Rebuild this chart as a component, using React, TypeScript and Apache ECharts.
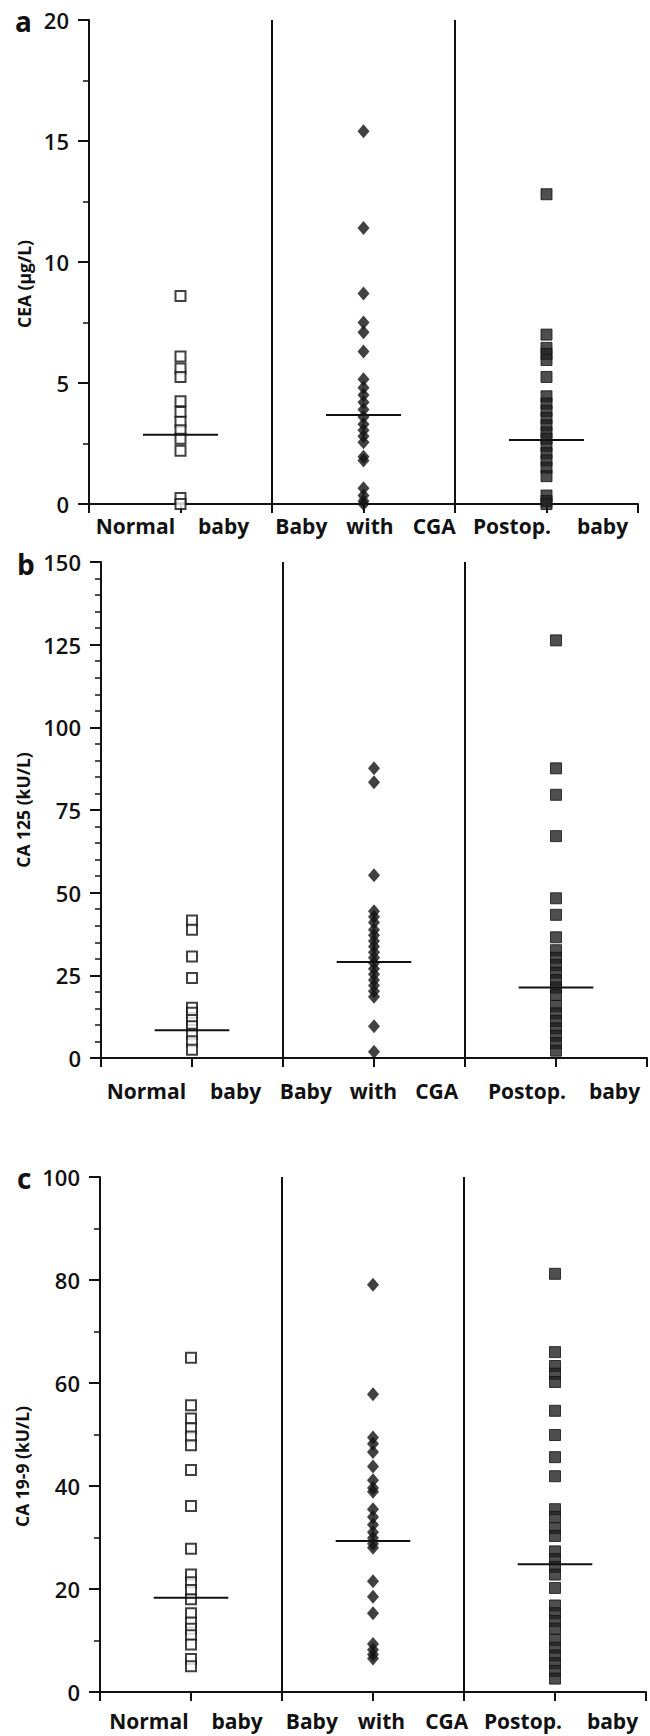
import React, { useEffect, useRef } from "react";
import * as echarts from "echarts";

const CATEGORIES = ["Normal baby", "Baby with CGA", "Postop. baby"];
const CAT_POS = [0.5, 1.5, 2.5];

// Panel a: CEA (µg/L)
const CEA_NORMAL = [8.6, 6.1, 5.6, 5.25, 4.25, 3.8, 3.4, 3.05, 2.7, 2.2, 0.25, 0];
const CEA_CGA = [15.4, 11.4, 8.7, 7.5, 7.1, 6.3, 5.15, 4.8, 4.5, 4.2, 3.9, 3.6, 3.3, 3.05, 2.8, 2.55, 1.95, 1.8, 0.65, 0.35, 0.12, 0];
const CEA_POSTOP = [12.8, 7.0, 6.45, 6.2, 5.95, 5.25, 4.45, 4.15, 3.85, 3.55, 3.25, 2.95, 2.7, 2.4, 2.1, 1.8, 1.5, 1.15, 0.35, 0.12, 0];
const CEA_MEDIAN = [2.86, 3.68, 2.64];

// Panel b: CA 125 (kU/L)
const CA125_NORMAL = [41.6, 38.8, 30.7, 24.2, 15.2, 13.7, 11.5, 9.6, 7.3, 5.1, 2.5];
const CA125_CGA = [87.6, 83.4, 55.3, 44.4, 42.7, 41.0, 38.8, 37.1, 35.4, 33.7, 32.0, 30.3, 28.7, 27.0, 25.3, 23.6, 21.9, 20.2, 18.5, 9.6, 1.9];
const CA125_POSTOP = [126.3, 87.6, 79.6, 67.1, 48.3, 43.3, 36.5, 32.6, 30.3, 28.1, 25.8, 23.6, 21.3, 19.1, 15.7, 13.5, 11.2, 9.0, 6.7, 4.5, 2.2];
const CA125_MEDIAN = [8.4, 29.0, 21.3];

// Panel c: CA 19-9 (kU/L)
const CA199_NORMAL = [64.9, 55.7, 53.1, 51.2, 49.6, 47.9, 43.1, 36.1, 27.8, 22.8, 21.3, 19.8, 18.0, 15.3, 13.5, 12.3, 11.0, 9.2, 6.4, 5.0];
const CA199_CGA = [79.1, 57.8, 49.4, 48.2, 46.6, 43.8, 41.1, 39.6, 38.9, 35.5, 34.0, 32.5, 31.0, 29.9, 28.8, 28.0, 21.5, 18.5, 15.3, 9.3, 8.2, 7.3, 6.5];
const CA199_POSTOP = [81.2, 66.0, 63.3, 61.8, 60.2, 54.6, 49.9, 45.6, 41.9, 35.5, 34.0, 31.8, 30.3, 27.3, 25.8, 24.3, 22.8, 20.2, 16.8, 15.3, 13.8, 12.3, 10.1, 8.6, 7.1, 5.6, 4.1, 2.6];
const CA199_MEDIAN = [18.3, 29.3, 24.8];

const PANEL_LETTERS = ["a", "b", "c"];
const Y_TITLES = ["CEA (\u00b5g/L)", "CA 125 (kU/L)", "CA 19-9 (kU/L)"];
const Y_MAX = [20, 150, 100];
const Y_STEP = [5, 25, 20];
const Y_MINOR = [2, 5, 2];

const PANELS = [
  { normal: CEA_NORMAL, cga: CEA_CGA, postop: CEA_POSTOP, median: CEA_MEDIAN },
  { normal: CA125_NORMAL, cga: CA125_CGA, postop: CA125_POSTOP, median: CA125_MEDIAN },
  { normal: CA199_NORMAL, cga: CA199_CGA, postop: CA199_POSTOP, median: CA199_MEDIAN },
];

// layout
const GRIDS = [
  { left: 89, top: 20, width: 549, height: 484 },
  { left: 101, top: 562, width: 549, height: 496 },
  { left: 100, top: 1177, width: 546, height: 515 },
];
const LETTER_POS = [
  { left: 10, top: 2 },
  { left: 12, top: 545 },
  { left: 12, top: 1159 },
];
// gaps between words of each category label, and horizontal offset of the label
const WORD_GAPS = [
  [[23], [19, 19], [26]],
  [[24], [18, 18], [23]],
  [[23], [20, 20], [25]],
];
const LABEL_OFFSET = [
  [-8, 2, 4],
  [-8, -5, 8],
  [-5, 4, 6],
];
const TITLE_SHIFT = [44, 0, 64];
const LABEL_MARGIN = [11, 22, 18];
const FONT = "'Open Sans', 'DejaVu Sans', sans-serif";
const LABEL_SIZE = 21;

function buildOption() {
  const grid: any[] = [];
  const xAxis: any[] = [];
  const yAxis: any[] = [];
  const series: any[] = [];
  const title: any[] = [];

  PANELS.forEach((p, i) => {
    grid.push({ ...GRIDS[i], containLabel: false });
    title.push({
      text: PANEL_LETTERS[i],
      left: LETTER_POS[i].left,
      top: LETTER_POS[i].top,
      textStyle: { fontFamily: FONT, fontSize: 28, fontWeight: "bold", color: "#111" },
    });

    const rich: any = {};
    CATEGORIES.forEach((cat, c) => {
      const words = cat.split(" ");
      const off = LABEL_OFFSET[i][c];
      words.forEach((_, k) => {
        let right = k < words.length - 1 ? WORD_GAPS[i][c][k] : 0;
        let left = 0;
        if (k === 0 && off > 0) left = off * 2;
        if (k === words.length - 1 && off < 0) right = -off * 2;
        rich[`t${c}_${k}`] = {
          fontFamily: FONT,
          fontSize: LABEL_SIZE,
          fontWeight: "bold",
          color: "#111",
          padding: [0, right, 0, left],
        };
      });
    });

    xAxis.push({
      gridIndex: i,
      type: "value",
      min: 0,
      max: 3,
      interval: 0.5,
      axisLine: { show: true, onZero: false, lineStyle: { color: "#111", width: 2 } },
      axisTick: { show: true, length: 9, lineStyle: { color: "#111", width: 2 } },
      splitLine: { show: false },
      axisLabel: {
        margin: LABEL_MARGIN[i],
        showMinLabel: true,
        showMaxLabel: true,
        formatter: (v: number) => {
          const idx = CAT_POS.findIndex((c) => Math.abs(c - v) < 1e-6);
          if (idx < 0) return "";
          const words = CATEGORIES[idx].split(" ");
          return words.map((wd, k) => `{t${idx}_${k}|${wd}}`).join("");
        },
        rich,
      },
    });

    const shift = TITLE_SHIFT[i];
    yAxis.push({
      gridIndex: i,
      type: "value",
      min: 0,
      max: Y_MAX[i],
      interval: Y_STEP[i],
      name: Y_TITLES[i],
      nameLocation: "middle",
      nameRotate: 90,
      nameGap: 32,
      nameTextStyle: {
        fontFamily: FONT,
        fontSize: 17.5,
        fontWeight: "bold",
        color: "#111",
        padding: [0, shift, 0, 0],
      },
      axisLine: { show: true, lineStyle: { color: "#111", width: 2 } },
      axisTick: { show: true, length: 11, lineStyle: { color: "#111", width: 2 } },
      minorTick: { show: true, splitNumber: Y_MINOR[i], length: 6, lineStyle: { color: "#111", width: 1.5 } },
      splitLine: { show: false },
      minorSplitLine: { show: false },
      axisLabel: { margin: 20, fontFamily: FONT, fontSize: 22, fontWeight: 600, color: "#111" },
    });

    series.push({
      type: "scatter",
      xAxisIndex: i,
      yAxisIndex: i,
      symbol: "rect",
      symbolSize: 10,
      itemStyle: { color: "#fff", borderColor: "#111", borderWidth: 2 },
      data: p.normal.map((v) => [CAT_POS[0], v]),
      z: 3,
      markLine: {
        silent: true,
        symbol: "none",
        label: { show: false },
        lineStyle: { color: "#111", width: 2, type: "solid" },
        data: [{ xAxis: 1 }, { xAxis: 2 }],
      },
    });
    series.push({
      type: "scatter",
      xAxisIndex: i,
      yAxisIndex: i,
      symbol: "diamond",
      symbolSize: [12, 14],
      itemStyle: { color: "#111" },
      data: p.cga.map((v) => [CAT_POS[1], v]),
      z: 3,
    });
    series.push({
      type: "scatter",
      xAxisIndex: i,
      yAxisIndex: i,
      symbol: "rect",
      symbolSize: 11,
      itemStyle: { color: "#222", borderColor: "#111", borderWidth: 1 },
      data: p.postop.map((v) => [CAT_POS[2], v]),
      z: 3,
    });
    p.median.forEach((m, k) => {
      series.push({
        type: "line",
        xAxisIndex: i,
        yAxisIndex: i,
        symbol: "none",
        lineStyle: { color: "#111", width: 2 },
        data: [
          [CAT_POS[k] - 0.205, m],
          [CAT_POS[k] + 0.205, m],
        ],
        z: 4,
      });
    });
  });

  return {
    animation: false,
    backgroundColor: "#fff",
    title,
    grid,
    xAxis,
    yAxis,
    series,
  };
}

export default function App() {
  const ref = useRef<HTMLDivElement>(null);
  useEffect(() => {
    document.body.style.margin = "0";
    if (!ref.current) return;
    const chart = echarts.init(ref.current, undefined, { renderer: "svg" });
    chart.setOption(buildOption());
    return () => chart.dispose();
  }, []);
  return <div ref={ref} style={{ width: 650, height: 1736 }} />;
}
